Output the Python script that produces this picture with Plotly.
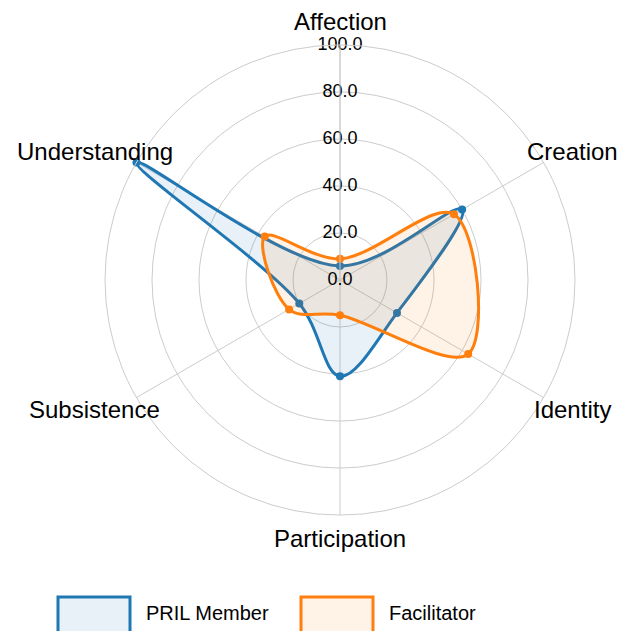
import math
import plotly.graph_objects as go

categories = ["Affection", "Creation", "Identity", "Participation", "Subsistence", "Understanding"]
pril_member = [6, 60, 28, 41, 20, 100]
facilitator = [9, 56, 63, 15, 25, 37]
tick_values = [0, 20, 40, 60, 80, 100]
tick_labels = ["0.0", "20.0", "40.0", "60.0", "80.0", "100.0"]
series_names = ["PRIL Member", "Facilitator"]

BLUE = "#1f77b4"
ORANGE = "#ff7f0e"
FILLS = ["rgba(31,119,180,0.1)", "rgba(255,127,14,0.1)"]
COLORS = [BLUE, ORANGE]

W, H = 633, 631
ML, MR, MT, MB = 97, 66, 37, 124
pw, ph = W - ML - MR, H - MT - MB
cx, cy = ML + pw / 2, MT + ph / 2

def closed(vals):
    return vals + vals[:1]

def to_paper(px, py):
    return (px - ML) / pw, 1 - (py - MT) / ph

fig = go.Figure()
for name, vals, color, fillc in zip(series_names, [pril_member, facilitator], COLORS, FILLS):
    fig.add_trace(go.Scatterpolar(
        r=closed(vals), theta=closed(categories), name=name, legendgroup=name,
        mode="lines", fill="toself", fillcolor=fillc,
        line=dict(color=color, width=3, shape="spline"), showlegend=False,
    ))
    fig.add_trace(go.Scatterpolar(
        r=vals, theta=categories, name=name, legendgroup=name, showlegend=False,
        mode="markers", marker=dict(size=8, color=color),
    ))

# radial tick labels, centred on the Affection spoke
fig.add_trace(go.Scatterpolar(
    r=tick_values, theta=[categories[0]] * len(tick_values), mode="text",
    text=tick_labels, textposition="middle center",
    textfont=dict(size=18, color="black"), showlegend=False, hoverinfo="skip",
))

annotations = []
shapes = []
# category labels placed around the polar area
for i, cat in enumerate(categories):
    ang = math.radians(90 - 60 * i)
    c = math.cos(ang)
    kx = 268 if c > 0.01 else 283
    x, y = to_paper(cx + kx * c, cy - 258 * math.sin(ang))
    annotations.append(dict(
        text=cat, xref="paper", yref="paper", showarrow=False,
        x=x, y=y, xanchor="center", yanchor="middle",
        font=dict(size=24, color="black"),
    ))

# legend: outlined boxes with labels
for k, (name, color, fillc) in enumerate(zip(series_names, COLORS, FILLS)):
    x0 = 50 + 243 * k
    bx0, by0 = to_paper(x0, 589)
    bx1, by1 = to_paper(x0 + 72, 632)
    shapes.append(dict(type="rect", xref="paper", yref="paper",
                       x0=bx0, x1=bx1, y0=by1, y1=by0,
                       line=dict(color=color, width=3), fillcolor=fillc))
    tx, ty = to_paper(x0 + 86, 605)
    annotations.append(dict(
        text=name, xref="paper", yref="paper", showarrow=False,
        x=tx, y=ty, xanchor="left", yanchor="middle",
        font=dict(size=20, color="black"),
    ))

fig.update_layout(
    width=W, height=H,
    paper_bgcolor="white",
    font=dict(family="Liberation Sans, Arial, sans-serif", color="black"),
    margin=dict(l=ML, r=MR, t=MT, b=MB),
    annotations=annotations,
    shapes=shapes,
    showlegend=False,
    polar=dict(
        bgcolor="white",
        angularaxis=dict(direction="clockwise", rotation=90, showticklabels=False,
                         gridcolor="#cccccc", linecolor="#cccccc", showline=True,
                         ticks=""),
        radialaxis=dict(range=[0, 100], tickvals=tick_values, showticklabels=False,
                        angle=90, gridcolor="#cccccc", linecolor="#cccccc",
                        showline=True, ticks=""),
    ),
)

fig.write_html("out.html")
